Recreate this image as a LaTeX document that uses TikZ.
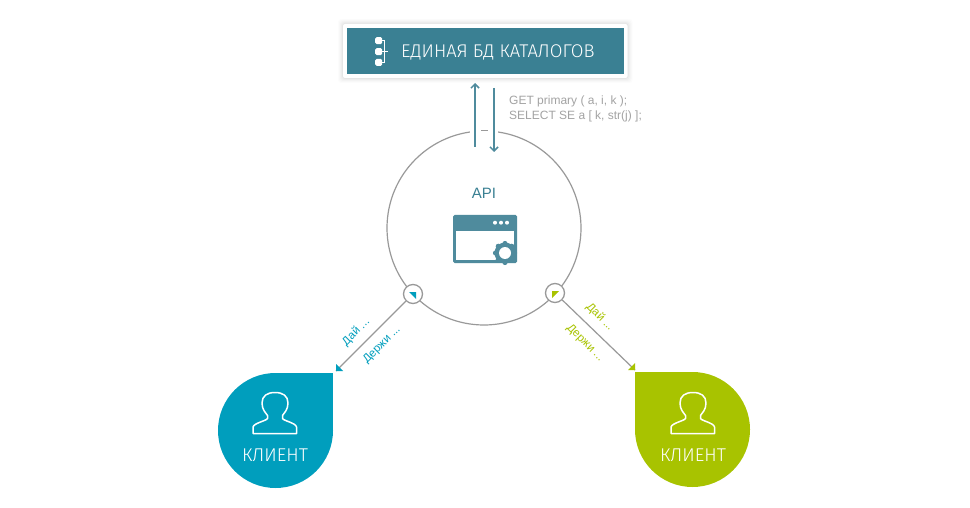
\documentclass[tikz,border=0pt]{standalone}
\usepackage{fontspec}
\setmainfont{Fira Sans Light}
\newfontfamily\regf{Liberation Sans}
\usetikzlibrary{arrows.meta}
\definecolor{tealc}{HTML}{3A8093}
\definecolor{iconc}{HTML}{4F8B9D}
\definecolor{bluec}{HTML}{009EBD}
\definecolor{greenc}{HTML}{A8C300}
\definecolor{linec}{HTML}{999999}
\definecolor{codec}{HTML}{A3A3A3}
\tikzset{
  flow/.style={draw=iconc,line width=1.5pt,-{Straight Barb[length=4pt,width=8pt,line width=1.5pt]}},
  wire/.style={draw=linec,line width=1.2pt},
  port/.style={circle,draw=linec,line width=1.3pt,fill=white,minimum size=19pt,inner sep=0pt},
  ringc/.style={circle,draw=linec,line width=1.2pt,minimum size=194pt,inner sep=0pt},
  clientlabel/.style={text=white,font=\fontsize{18.5}{20}\selectfont,inner sep=0pt},
  sidetext/.style={font=\regf\fontsize{11.5}{12}\selectfont,inner sep=0pt},
  person/.style={draw=white,line width=1.5pt,line join=round},
}
\newcommand{\personicon}[1]{%
  \begin{scope}[shift={(#1,0)}]
    \draw[person] (-13,403) .. controls (-13,396) and (-8,392.5) .. (0,392.5)
      .. controls (8,392.5) and (13,396) .. (13,403)
      .. controls (13,410) and (9,413) .. (7.5,415.5) -- (7.5,418.5)
      .. controls (9,421) and (21,423) .. (21.5,427) -- (21.5,433.5) -- (-22,433.5) -- (-22,427)
      .. controls (-21,423) and (-9,421) .. (-7.5,418.5) -- (-7.5,415.5)
      .. controls (-9,413) and (-13,410) .. (-13,403) -- cycle;
  \end{scope}}
\begin{document}
\begin{tikzpicture}[x=1pt,y=-1pt]
\useasboundingbox[fill=white] (0,0) rectangle (970,508);
% title box
\foreach \d/\o in {5/0.012,4/0.015,3/0.02,2/0.025,1/0.03}
  \fill[black,opacity=\o,rounded corners=3pt] (343-\d,24-\d) rectangle (627.5+\d,78+\d);
\fill[white,rounded corners=2pt] (343,24) rectangle (627.5,78);
\node[fill=tealc,minimum width=277pt,minimum height=46pt,inner sep=0pt] (db) at (485.5,51) {};
\node[text=white,font=\fontsize{18.4}{20}\selectfont,inner sep=0pt,anchor=west] (dbt) at (401,52) {ЕДИНАЯ БД КАТАЛОГОВ};
\fill[white,rounded corners=1.5pt] (375.2,37.2) rectangle (382.2,44.2) (375.2,48.2) rectangle (382.2,55.2) (375.2,58.8) rectangle (382.2,65.8);
\draw[white,line width=.8pt] (382,40.7) -- (384.5,40.7) -- (384.5,62.3) -- (382,62.3) (382,51.7) -- (388,51.7);
% ring
\node[ringc] (ring) at (484,228) {};
\fill[white] (470,125) rectangle (498,137);
\draw[linec,line width=.8pt] (481,130) -- (488,130);
% flows
\coordinate (u1) at (475,147); \coordinate (u2) at (475,83);
\coordinate (d1) at (494,88); \coordinate (d2) at (494,152);
\draw[flow] (u1) -- (u2);
\draw[flow] (d1) -- (d2);
\node[text=codec,font=\regf\fontsize{12}{15}\selectfont,align=left,anchor=west,inner sep=0pt] (code) at (509,108.5) {GET primary ( a, i, k );\\SELECT SE a [ k, str(j) ];};
% API
\node[text=tealc,font=\regf\fontsize{15}{16}\selectfont,inner sep=0pt] (api) at (484,193) {API};
\fill[iconc,rounded corners=1.5pt] (453,215) rectangle (517,263);
\fill[white] (456,231) rectangle (514,259.5);
\foreach \x in {495,501,507} \fill[white] (\x,222.7) circle (2pt);
\fill[iconc] (505,253) circle (10.5pt);
\foreach \a in {0,45,...,315} \fill[iconc] (505,253) ++(\a:9.5) circle (2.6pt);
\fill[iconc] (497,254) rectangle (514,263);
\fill[white] (505,253) circle (6pt);
% clients
\fill[bluec] (275.5,430.5) circle (57.5pt);
\fill[bluec] (275.5,373) rectangle (333,430.5);
\fill[greenc] (692.5,429.5) circle (57.5pt);
\fill[greenc] (635,372) rectangle (692.5,429.5);
\personicon{275}
\personicon{693}
\node[clientlabel] (cl) at (275,455.5) {КЛИЕНТ};
\node[clientlabel] (cr) at (693,455.5) {КЛИЕНТ};
% ports
\node[port] (pl) at (413,294) {};
\node[port] (pr) at (555,293) {};
\fill[bluec] (409,292) -- (416,292) -- (416,299) -- cycle;
\fill[greenc] (552,291) -- (559,291) -- (552,298) -- cycle;
\coordinate (el) at (336,371);
\coordinate (er) at (635,370);
\draw[wire] (pl) -- (el);
\draw[wire] (pr) -- (er);
\fill[bluec] (el) -- (336,364) -- (343,371) -- cycle;
\fill[greenc] (er) -- (635,363) -- (628,370) -- cycle;
\node[sidetext,text=bluec,rotate=45] (la) at (356,332) {Дай ...};
\node[sidetext,text=bluec,rotate=45] (lb) at (382,345) {Держи ...};
\node[sidetext,text=greenc,rotate=-45] (ra) at (600,317) {Дай ...};
\node[sidetext,text=greenc,rotate=-45] (rb) at (585,343) {Держи ...};
\end{tikzpicture}
\end{document}
